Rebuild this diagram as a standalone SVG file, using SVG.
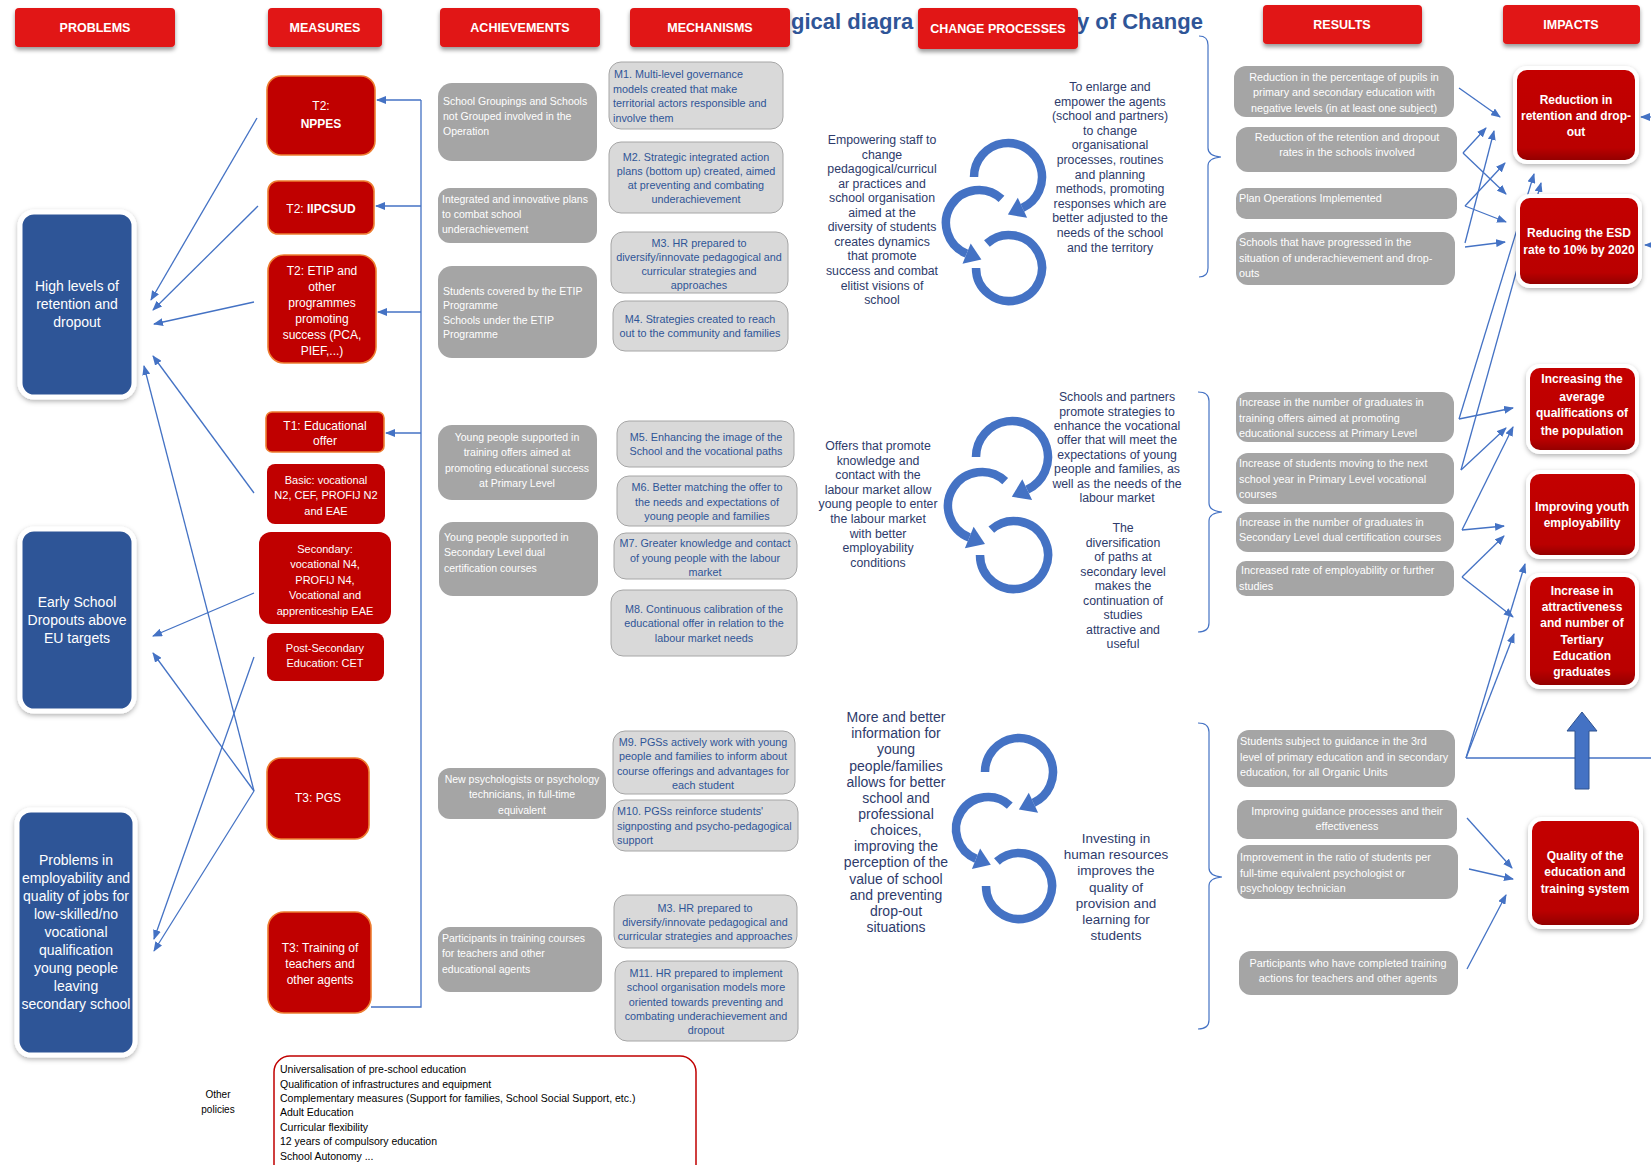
<svg xmlns="http://www.w3.org/2000/svg" width="1651" height="1165" viewBox="0 0 1651 1165">
<defs>
<filter id="sh" x="-10%" y="-20%" width="120%" height="160%"><feDropShadow dx="0" dy="3" stdDeviation="2" flood-color="#000" flood-opacity="0.4"/></filter>
<filter id="sh2" x="-15%" y="-15%" width="130%" height="130%"><feDropShadow dx="0" dy="2" stdDeviation="2.5" flood-color="#000" flood-opacity="0.3"/></filter>
<linearGradient id="rg" x1="0" y1="0" x2="0" y2="1"><stop offset="0" stop-color="#C40000"/><stop offset="0.85" stop-color="#BA0000"/><stop offset="1" stop-color="#8E0000"/></linearGradient>
<marker id="ah" viewBox="0 0 10 8" refX="9" refY="4" markerWidth="10" markerHeight="8" markerUnits="userSpaceOnUse" orient="auto"><path d="M0 0 L10 4 L0 8 Z" fill="#4472C4"/></marker>
<style>
text{font-family:"Liberation Sans",Arial,sans-serif}
.hb{fill:#E11414;filter:url(#sh)}
.ht{fill:#fff;font-size:12.5px;font-weight:bold;text-anchor:middle}
.tt{fill:#2F5597;font-size:22px;font-weight:bold}
.pb{fill:#2F5597;stroke:#fff;stroke-width:5;filter:url(#sh2)}
.pt{fill:#fff;font-size:14px;text-anchor:middle}
.mb{fill:#C00000;stroke:#ED7D31;stroke-width:1.6}
.mb2{fill:#C00000}
.mt{fill:#fff;font-size:12px;text-anchor:middle}
.ms{fill:#fff;font-size:11px;text-anchor:middle}
.ab{fill:#A5A5A5}
.at{fill:#fff;font-size:10.5px}
.kb{fill:#D9D9D9;stroke:#A6A6A6;stroke-width:1}
.kt{fill:#2F5597;font-size:10.8px}
.ct{fill:#2E3B6B;font-size:12.3px;text-anchor:middle}
.rt{fill:#fff;font-size:10.8px}
.ib{fill:url(#rg);stroke:#fff;stroke-width:4;filter:url(#sh2)}
.it{fill:#fff;font-size:12px;font-weight:bold;text-anchor:middle}
.c{fill:none;stroke:#4472C4;stroke-width:1.3;marker-end:url(#ah)}
.cn{fill:none;stroke:#4472C4;stroke-width:1.3}
.br{fill:none;stroke:#4472C4;stroke-width:1.2}
.ca{fill:none;stroke:#4472C4;stroke-width:8.5}
.cah{fill:#4472C4}
.mid{text-anchor:middle}
</style>
</defs>
<rect width="1651" height="1165" fill="#fff"/>

<g id="title">
<text class="tt" x="791" y="29">gical diagra</text>
<text class="tt" x="1077" y="29">y of Change</text>
</g>

<g id="headers">
<g id="h-problems"><rect class="hb" x="15" y="8" width="160" height="39" rx="4"/><text class="ht" x="95" y="32">PROBLEMS</text></g>
<g id="h-measures"><rect class="hb" x="268" y="8" width="114" height="39" rx="4"/><text class="ht" x="325" y="32">MEASURES</text></g>
<g id="h-achievements"><rect class="hb" x="440" y="8" width="160" height="39" rx="4"/><text class="ht" x="520" y="32">ACHIEVEMENTS</text></g>
<g id="h-mechanisms"><rect class="hb" x="630" y="8" width="160" height="39" rx="4"/><text class="ht" x="710" y="32">MECHANISMS</text></g>
<g id="h-change"><rect class="hb" x="918" y="8" width="160" height="41" rx="4"/><text class="ht" x="998" y="33">CHANGE PROCESSES</text></g>
<g id="h-results"><rect class="hb" x="1263" y="5" width="159" height="39" rx="4"/><text class="ht" x="1342" y="29">RESULTS</text></g>
<g id="h-impacts"><rect class="hb" x="1503" y="5" width="137" height="39" rx="4"/><text class="ht" x="1571" y="29">IMPACTS</text></g>
</g>

<g id="connectors">
<path class="c" d="M257 118 L151 300"/>
<path class="c" d="M258 206 L153 310"/>
<path class="c" d="M254 302 L154 324"/>
<path class="c" d="M254 493 L153 356"/>
<path class="c" d="M254 791 L144 366"/>
<path class="c" d="M254 593 L153 636"/>
<path class="c" d="M254 791 L153 653"/>
<path class="c" d="M254 657 L154 939"/>
<path class="c" d="M254 791 L154 951"/>
<path class="cn" d="M371 1007 H421 V100"/>
<path class="c" d="M421 100 H377"/>
<path class="c" d="M421 206 H376"/>
<path class="c" d="M421 312 H378"/>
<path class="c" d="M421 433 H386"/>
<path class="br" d="M1199 36 Q1208 36 1208 45 V148 Q1208 156 1221 157 Q1208 158 1208 166 V268 Q1208 277 1199 277"/>
<path class="br" d="M1198 392 Q1209 392 1209 401 V503 Q1209 511 1222 512 Q1209 513 1209 521 V623 Q1209 632 1198 632"/>
<path class="br" d="M1198 723 Q1209 723 1209 732 V868 Q1209 876 1222 877 Q1209 878 1209 886 V1020 Q1209 1029 1198 1029"/>
<path class="c" d="M1459 88 L1500 117"/>
<path class="c" d="M1463 153 L1486 128"/>
<path class="c" d="M1463 153 L1506 194"/>
<path class="c" d="M1465 206 L1505 163"/>
<path class="c" d="M1465 206 L1506 222"/>
<path class="c" d="M1465 243 L1494 131"/>
<path class="c" d="M1465 247 L1505 242"/>
<path class="c" d="M1459 419 L1534 174"/>
<path class="c" d="M1461 470 L1541 183"/>
<path class="c" d="M1459 419 L1513 408"/>
<path class="c" d="M1461 470 L1506 428"/>
<path class="c" d="M1462 530 L1513 427"/>
<path class="c" d="M1462 530 L1504 526"/>
<path class="c" d="M1462 577 L1504 536"/>
<path class="c" d="M1462 577 L1513 617"/>
<path class="cn" d="M1466 758 H1651"/>
<path class="c" d="M1466 758 L1525 564"/>
<path class="c" d="M1466 758 L1514 634"/>
<path class="c" d="M1651 117 L1641 117"/>
<path class="c" d="M1651 245 L1645 245"/>
<path class="c" d="M1467 818 L1512 868"/>
<path class="c" d="M1469 869 L1513 879"/>
<path class="c" d="M1467 969 L1506 895"/>
<path d="M1575 789 V731 H1567 L1582 712 L1597 731 H1589 V789 Z" fill="#4472C4" stroke="#2F528F" stroke-width="1"/>
</g>

<g id="problems">
<g id="p-retention"><rect class="pb" x="20" y="212" width="114" height="185" rx="14"/>
<text class="pt"><tspan x="77" y="291">High levels of</tspan><tspan x="77" y="309">retention and</tspan><tspan x="77" y="327">dropout</tspan></text></g>
<g id="p-esd"><rect class="pb" x="20" y="529" width="114" height="182" rx="14"/>
<text class="pt"><tspan x="77" y="607">Early School</tspan><tspan x="77" y="625">Dropouts above</tspan><tspan x="77" y="643">EU targets</tspan></text></g>
<g id="p-employability"><rect class="pb" x="17" y="810" width="118" height="245" rx="14"/>
<text class="pt"><tspan x="76" y="865">Problems in</tspan><tspan x="76" y="883">employability and</tspan><tspan x="76" y="901">quality of jobs for</tspan><tspan x="76" y="919">low-skilled/no</tspan><tspan x="76" y="937">vocational</tspan><tspan x="76" y="955">qualification</tspan><tspan x="76" y="973">young people</tspan><tspan x="76" y="991">leaving</tspan><tspan x="76" y="1009">secondary school</tspan></text></g>
</g>

<g id="measures">
<g id="m-nppes"><rect class="mb" x="267" y="76" width="108" height="79" rx="14"/><text class="mt"><tspan x="321" y="110">T2:</tspan><tspan x="321" y="128" font-weight="bold">NPPES</tspan></text></g>
<g id="m-iipcsud"><rect class="mb" x="268" y="181" width="106" height="53" rx="10"/><text class="mt" x="321" y="213">T2: <tspan font-weight="bold">IIPCSUD</tspan></text></g>
<g id="m-etip"><rect class="mb" x="268" y="255" width="108" height="108" rx="16"/><text class="mt"><tspan x="322" y="275">T2: ETIP and</tspan><tspan x="322" y="291">other</tspan><tspan x="322" y="307">programmes</tspan><tspan x="322" y="323">promoting</tspan><tspan x="322" y="339">success (PCA,</tspan><tspan x="322" y="355">PIEF,...)</tspan></text></g>
<g id="m-t1"><rect class="mb" x="266" y="412" width="118" height="40" rx="6"/><text class="mt"><tspan x="325" y="430">T1: Educational</tspan><tspan x="325" y="445">offer</tspan></text></g>
<g id="m-basic"><rect class="mb2" x="267" y="464" width="118" height="60" rx="8"/><text class="ms"><tspan x="326" y="484">Basic: vocational</tspan><tspan x="326" y="499">N2, CEF, PROFIJ N2</tspan><tspan x="326" y="515">and EAE</tspan></text></g>
<g id="m-secondary"><rect class="mb2" x="259" y="532" width="132" height="92" rx="12"/><text class="ms"><tspan x="325" y="553">Secondary:</tspan><tspan x="325" y="568">vocational N4,</tspan><tspan x="325" y="584">PROFIJ N4,</tspan><tspan x="325" y="599">Vocational and</tspan><tspan x="325" y="615">apprenticeship EAE</tspan></text></g>
<g id="m-postsec"><rect class="mb2" x="267" y="633" width="117" height="48" rx="8"/><text class="ms"><tspan x="325" y="652">Post-Secondary</tspan><tspan x="325" y="667">Education: CET</tspan></text></g>
<g id="m-pgs"><rect class="mb" x="267" y="758" width="102" height="81" rx="14"/><text class="mt" x="318" y="802">T3: PGS</text></g>
<g id="m-training"><rect class="mb" x="268" y="912" width="103" height="101" rx="16"/><text class="mt"><tspan x="320" y="952">T3: Training of</tspan><tspan x="320" y="968">teachers and</tspan><tspan x="320" y="984">other agents</tspan></text></g>
</g>

<g id="achievements">
<g id="a1"><rect class="ab" x="438" y="83" width="159" height="78" rx="14"/><text class="at"><tspan x="443" y="104.5">School Groupings and Schools</tspan><tspan x="443" y="119.5">not Grouped involved in the</tspan><tspan x="443" y="134.5">Operation</tspan></text></g>
<g id="a2"><rect class="ab" x="438" y="188" width="159" height="55" rx="12"/><text class="at"><tspan x="442" y="202.5">Integrated and innovative plans</tspan><tspan x="442" y="217.5">to combat school</tspan><tspan x="442" y="232.5">underachievement</tspan></text></g>
<g id="a3"><rect class="ab" x="438" y="266" width="159" height="92" rx="14"/><text class="at"><tspan x="443" y="294.5">Students covered by the ETIP</tspan><tspan x="443" y="309">Programme</tspan><tspan x="443" y="323.5">Schools under the ETIP</tspan><tspan x="443" y="338">Programme</tspan></text></g>
<g id="a4"><rect class="ab" x="438" y="425" width="159" height="75" rx="14"/><text class="at mid"><tspan x="517" y="440.5">Young people supported in</tspan><tspan x="517" y="456">training offers aimed at</tspan><tspan x="517" y="471.5">promoting educational success</tspan><tspan x="517" y="487">at Primary Level</tspan></text></g>
<g id="a5"><rect class="ab" x="439" y="522" width="159" height="74" rx="14"/><text class="at"><tspan x="444" y="540.5">Young people supported in</tspan><tspan x="444" y="556">Secondary Level dual</tspan><tspan x="444" y="571.5">certification courses</tspan></text></g>
<g id="a6"><rect class="ab" x="438" y="768" width="168" height="51" rx="12"/><text class="at mid"><tspan x="522" y="782.5">New psychologists or psychology</tspan><tspan x="522" y="798">technicians, in full-time</tspan><tspan x="522" y="813.5">equivalent</tspan></text></g>
<g id="a7"><rect class="ab" x="438" y="927" width="164" height="65" rx="12"/><text class="at"><tspan x="442" y="941.5">Participants in training courses</tspan><tspan x="442" y="957">for teachers and other</tspan><tspan x="442" y="972.5">educational agents</tspan></text></g>
</g>

<g id="mechanisms">
<g id="k1"><rect class="kb" x="609" y="62" width="174" height="67" rx="12"/><text class="kt"><tspan x="614" y="78">M1. Multi-level governance</tspan><tspan x="613" y="92.5">models created that make</tspan><tspan x="613" y="107">territorial actors responsible and</tspan><tspan x="613" y="121.5">involve them</tspan></text></g>
<g id="k2"><rect class="kb" x="609" y="142" width="174" height="71" rx="12"/><text class="kt mid"><tspan x="696" y="161">M2. Strategic integrated action</tspan><tspan x="696" y="175">plans (bottom up) created, aimed</tspan><tspan x="696" y="189">at preventing and combating</tspan><tspan x="696" y="203">underachievement</tspan></text></g>
<g id="k3"><rect class="kb" x="611" y="232" width="177" height="61" rx="12"/><text class="kt mid"><tspan x="699" y="247">M3. HR prepared to</tspan><tspan x="699" y="261">diversify/innovate pedagogical and</tspan><tspan x="699" y="275">curricular strategies and</tspan><tspan x="699" y="289">approaches</tspan></text></g>
<g id="k4"><rect class="kb" x="613" y="301" width="175" height="50" rx="12"/><text class="kt mid"><tspan x="700" y="323">M4. Strategies created to reach</tspan><tspan x="700" y="337">out to the community and families</tspan></text></g>
<g id="k5"><rect class="kb" x="617" y="421" width="177" height="46" rx="12"/><text class="kt mid"><tspan x="706" y="441">M5. Enhancing the image of the</tspan><tspan x="706" y="455">School and the vocational paths</tspan></text></g>
<g id="k6"><rect class="kb" x="617" y="476" width="180" height="50" rx="12"/><text class="kt mid"><tspan x="707" y="491">M6. Better matching the offer to</tspan><tspan x="707" y="506">the needs and expectations of</tspan><tspan x="707" y="520">young people and families</tspan></text></g>
<g id="k7"><rect class="kb" x="614" y="533" width="183" height="46" rx="12"/><text class="kt mid"><tspan x="705" y="547">M7. Greater knowledge and contact</tspan><tspan x="705" y="562">of young people with the labour</tspan><tspan x="705" y="576">market</tspan></text></g>
<g id="k8"><rect class="kb" x="611" y="590" width="186" height="66" rx="12"/><text class="kt mid"><tspan x="704" y="613">M8. Continuous calibration of the</tspan><tspan x="704" y="627">educational offer in relation to the</tspan><tspan x="704" y="642">labour market needs</tspan></text></g>
<g id="k9"><rect class="kb" x="613" y="731" width="182" height="63" rx="12"/><text class="kt mid"><tspan x="703" y="746">M9. PGSs actively work with young</tspan><tspan x="703" y="760">people and families to inform about</tspan><tspan x="703" y="775">course offerings and advantages for</tspan><tspan x="703" y="789">each student</tspan></text></g>
<g id="k10"><rect class="kb" x="613" y="800" width="185" height="51" rx="12"/><text class="kt"><tspan x="617" y="815">M10. PGSs reinforce students'</tspan><tspan x="617" y="830">signposting and psycho-pedagogical</tspan><tspan x="617" y="844">support</tspan></text></g>
<g id="k3b"><rect class="kb" x="614" y="895" width="183" height="53" rx="12"/><text class="kt mid"><tspan x="705" y="912">M3. HR prepared to</tspan><tspan x="705" y="926">diversify/innovate pedagogical and</tspan><tspan x="705" y="940">curricular strategies and approaches</tspan></text></g>
<g id="k11"><rect class="kb" x="615" y="961" width="183" height="80" rx="12"/><text class="kt mid"><tspan x="706" y="977">M11. HR prepared to implement</tspan><tspan x="706" y="991">school organisation models more</tspan><tspan x="706" y="1006">oriented towards preventing and</tspan><tspan x="706" y="1020">combating underachievement and</tspan><tspan x="706" y="1034">dropout</tspan></text></g>
</g>

<g id="change-processes">
<g id="cp1">
<path class="ca" d="M974 177 A34 34 0 1 1 1022.4 207.8"/><path class="cah" d="M1027.1 217.8 L1017.8 197.8 L1007.9 214.6 Z"/>
<path class="ca" d="M1001.5 198.9 A33 33 0 1 0 966.6 253.6"/><path class="cah" d="M962.5 263.8 L970.7 243.4 L981.4 259.6 Z"/>
<path class="ca" d="M986.9 243.5 A33 33 0 1 1 976 268"/>
<text class="ct"><tspan x="882" y="144">Empowering staff to</tspan><tspan x="882" y="158.5">change</tspan><tspan x="882" y="173.1">pedagogical/curricul</tspan><tspan x="882" y="187.6">ar practices and</tspan><tspan x="882" y="202.2">school organisation</tspan><tspan x="882" y="216.7">aimed at the</tspan><tspan x="882" y="231.3">diversity of students</tspan><tspan x="882" y="245.8">creates dynamics</tspan><tspan x="882" y="260.4">that promote</tspan><tspan x="882" y="274.9">success and combat</tspan><tspan x="882" y="289.5">elitist visions of</tspan><tspan x="882" y="304">school</tspan></text>
<text class="ct"><tspan x="1110" y="91">To enlarge and</tspan><tspan x="1110" y="105.6">empower the agents</tspan><tspan x="1110" y="120.2">(school and partners)</tspan><tspan x="1110" y="134.8">to change</tspan><tspan x="1110" y="149.4">organisational</tspan><tspan x="1110" y="164">processes, routines</tspan><tspan x="1110" y="178.6">and planning</tspan><tspan x="1110" y="193.2">methods, promoting</tspan><tspan x="1110" y="207.8">responses which are</tspan><tspan x="1110" y="222.4">better adjusted to the</tspan><tspan x="1110" y="237">needs of the school</tspan><tspan x="1110" y="251.6">and the territory</tspan></text>
</g>
<g id="cp2">
<path class="ca" d="M976 457 A36 36 0 1 1 1027.2 489.6"/><path class="cah" d="M1032.1 500 L1022.3 479.2 L1011.8 496.8 Z"/>
<path class="ca" d="M1005.2 481.1 A34 34 0 1 0 969.3 537.5"/><path class="cah" d="M964.9 548.2 L973.6 526.8 L985 543.9 Z"/>
<path class="ca" d="M991.3 529.7 A34 34 0 1 1 980 555"/>
<text class="ct"><tspan x="878" y="450">Offers that promote</tspan><tspan x="878" y="464.6">knowledge and</tspan><tspan x="878" y="479.2">contact with the</tspan><tspan x="878" y="493.8">labour market allow</tspan><tspan x="878" y="508.4">young people to enter</tspan><tspan x="878" y="523">the labour market</tspan><tspan x="878" y="537.6">with better</tspan><tspan x="878" y="552.2">employability</tspan><tspan x="878" y="566.8">conditions</tspan></text>
<text class="ct"><tspan x="1117" y="401">Schools and partners</tspan><tspan x="1117" y="415.5">promote strategies to</tspan><tspan x="1117" y="429.9">enhance the vocational</tspan><tspan x="1117" y="444.4">offer that will meet the</tspan><tspan x="1117" y="458.8">expectations of young</tspan><tspan x="1117" y="473.3">people and families, as</tspan><tspan x="1117" y="487.7">well as the needs of the</tspan><tspan x="1117" y="502.2">labour market</tspan></text>
<text class="ct"><tspan x="1123" y="532">The</tspan><tspan x="1123" y="546.5">diversification</tspan><tspan x="1123" y="561">of paths at</tspan><tspan x="1123" y="575.5">secondary level</tspan><tspan x="1123" y="590">makes the</tspan><tspan x="1123" y="604.5">continuation of</tspan><tspan x="1123" y="619">studies</tspan><tspan x="1123" y="633.5">attractive and</tspan><tspan x="1123" y="648">useful</tspan></text>
</g>
<g id="cp3">
<path class="ca" d="M985 772 A34 34 0 1 1 1033.4 802.8"/><path class="cah" d="M1038.1 812.8 L1028.8 792.8 L1018.9 809.6 Z"/>
<path class="ca" d="M1009.8 805.6 A32 32 0 1 0 976 858.7"/><path class="cah" d="M971.9 868.9 L980.1 848.5 L990.8 864.7 Z"/>
<path class="ca" d="M996.9 861.5 A33 33 0 1 1 986 886"/>
<text class="ct" style="font-size:14px"><tspan x="896" y="722">More and better</tspan><tspan x="896" y="738.2">information for</tspan><tspan x="896" y="754.3">young</tspan><tspan x="896" y="770.5">people/families</tspan><tspan x="896" y="786.6">allows for better</tspan><tspan x="896" y="802.8">school and</tspan><tspan x="896" y="818.9">professional</tspan><tspan x="896" y="835.1">choices,</tspan><tspan x="896" y="851.2">improving the</tspan><tspan x="896" y="867.4">perception of the</tspan><tspan x="896" y="883.5">value of school</tspan><tspan x="896" y="899.7">and preventing</tspan><tspan x="896" y="915.8">drop-out</tspan><tspan x="896" y="932">situations</tspan></text>
<text class="ct" style="font-size:13.5px"><tspan x="1116" y="843">Investing in</tspan><tspan x="1116" y="859.2">human resources</tspan><tspan x="1116" y="875.4">improves the</tspan><tspan x="1116" y="891.6">quality of</tspan><tspan x="1116" y="907.8">provision and</tspan><tspan x="1116" y="924">learning for</tspan><tspan x="1116" y="940.2">students</tspan></text>
</g>
</g>

<g id="results">
<g id="r1"><rect class="ab" x="1234" y="66" width="220" height="51" rx="12"/><text class="rt mid"><tspan x="1344" y="81">Reduction in the percentage of pupils in</tspan><tspan x="1344" y="96">primary and secondary education with</tspan><tspan x="1344" y="112">negative levels (in at least one subject)</tspan></text></g>
<g id="r2"><rect class="ab" x="1236" y="127" width="221" height="45" rx="12"/><text class="rt mid"><tspan x="1347" y="141">Reduction of the retention and dropout</tspan><tspan x="1347" y="156">rates in the schools involved</tspan></text></g>
<g id="r3"><rect class="ab" x="1236" y="188" width="221" height="31" rx="10"/><text class="rt" x="1239" y="202">Plan Operations Implemented</text></g>
<g id="r4"><rect class="ab" x="1236" y="232" width="219" height="53" rx="12"/><text class="rt"><tspan x="1239" y="246">Schools that have progressed in the</tspan><tspan x="1239" y="262">situation of underachievement and drop-</tspan><tspan x="1239" y="277">outs</tspan></text></g>
<g id="r5"><rect class="ab" x="1236" y="392" width="218" height="50" rx="12"/><text class="rt"><tspan x="1239" y="406">Increase in the number of graduates in</tspan><tspan x="1239" y="422">training offers aimed at promoting</tspan><tspan x="1239" y="437">educational success at Primary Level</tspan></text></g>
<g id="r6"><rect class="ab" x="1236" y="453" width="218" height="51" rx="12"/><text class="rt"><tspan x="1239" y="467">Increase of students moving to the next</tspan><tspan x="1239" y="483">school year in Primary Level vocational</tspan><tspan x="1239" y="498">courses</tspan></text></g>
<g id="r7"><rect class="ab" x="1236" y="512" width="218" height="40" rx="12"/><text class="rt"><tspan x="1239" y="526">Increase in the number of graduates in</tspan><tspan x="1239" y="541">Secondary Level dual certification courses</tspan></text></g>
<g id="r8"><rect class="ab" x="1236" y="561" width="218" height="35" rx="10"/><text class="rt"><tspan x="1241" y="574">Increased rate of employability or further</tspan><tspan x="1239" y="590">studies</tspan></text></g>
<g id="r9"><rect class="ab" x="1237" y="730" width="218" height="57" rx="12"/><text class="rt"><tspan x="1240" y="745">Students subject to guidance in the 3rd</tspan><tspan x="1240" y="761">level of primary education and in secondary</tspan><tspan x="1240" y="776">education, for all Organic Units</tspan></text></g>
<g id="r10"><rect class="ab" x="1237" y="800" width="220" height="39" rx="10"/><text class="rt mid"><tspan x="1347" y="815">Improving guidance processes and their</tspan><tspan x="1347" y="830">effectiveness</tspan></text></g>
<g id="r11"><rect class="ab" x="1237" y="845" width="221" height="54" rx="12"/><text class="rt"><tspan x="1240" y="861">Improvement in the ratio of students per</tspan><tspan x="1240" y="877">full-time equivalent psychologist or</tspan><tspan x="1240" y="892">psychology technician</tspan></text></g>
<g id="r12"><rect class="ab" x="1239" y="951" width="219" height="44" rx="12"/><text class="rt mid"><tspan x="1348" y="967">Participants who have completed training</tspan><tspan x="1348" y="982">actions for teachers and other agents</tspan></text></g>
</g>

<g id="impacts">
<g id="i1"><rect class="ib" x="1515" y="68" width="122" height="94" rx="12"/><text class="it"><tspan x="1576" y="104">Reduction in</tspan><tspan x="1576" y="120">retention and drop-</tspan><tspan x="1576" y="136">out</tspan></text></g>
<g id="i2"><rect class="ib" x="1518" y="196" width="122" height="90" rx="12"/><text class="it"><tspan x="1579" y="237">Reducing the ESD</tspan><tspan x="1579" y="254">rate to 10% by 2020</tspan></text></g>
<g id="i3"><rect class="ib" x="1528" y="366" width="109" height="86" rx="12"/><text class="it"><tspan x="1582" y="383">Increasing the</tspan><tspan x="1582" y="401">average</tspan><tspan x="1582" y="417">qualifications of</tspan><tspan x="1582" y="435">the population</tspan></text></g>
<g id="i4"><rect class="ib" x="1528" y="472" width="109" height="85" rx="12"/><text class="it"><tspan x="1582" y="511">Improving youth</tspan><tspan x="1582" y="527">employability</tspan></text></g>
<g id="i5"><rect class="ib" x="1528" y="575" width="109" height="112" rx="12"/><text class="it"><tspan x="1582" y="595">Increase in</tspan><tspan x="1582" y="611">attractiveness</tspan><tspan x="1582" y="627">and number of</tspan><tspan x="1582" y="644">Tertiary</tspan><tspan x="1582" y="660">Education</tspan><tspan x="1582" y="676">graduates</tspan></text></g>
<g id="i6"><rect class="ib" x="1530" y="819" width="111" height="108" rx="12"/><text class="it"><tspan x="1585" y="860">Quality of the</tspan><tspan x="1585" y="876">education and</tspan><tspan x="1585" y="893">training system</tspan></text></g>
</g>

<g id="other-policies">
<text font-size="10" fill="#000" text-anchor="middle"><tspan x="218" y="1098">Other</tspan><tspan x="218" y="1113">policies</tspan></text>
<rect x="274" y="1056" width="422" height="140" rx="16" fill="#fff" stroke="#C00000" stroke-width="1.5"/>
<text font-size="10.5" fill="#000"><tspan x="280" y="1073">Universalisation of pre-school education</tspan><tspan x="280" y="1088">Qualification of infrastructures and equipment</tspan><tspan x="280" y="1102">Complementary measures (Support for families, School Social Support, etc.)</tspan><tspan x="280" y="1116">Adult Education</tspan><tspan x="280" y="1131">Curricular flexibility</tspan><tspan x="280" y="1145">12 years of compulsory education</tspan><tspan x="280" y="1160">School Autonomy ...</tspan></text>
</g>
</svg>
